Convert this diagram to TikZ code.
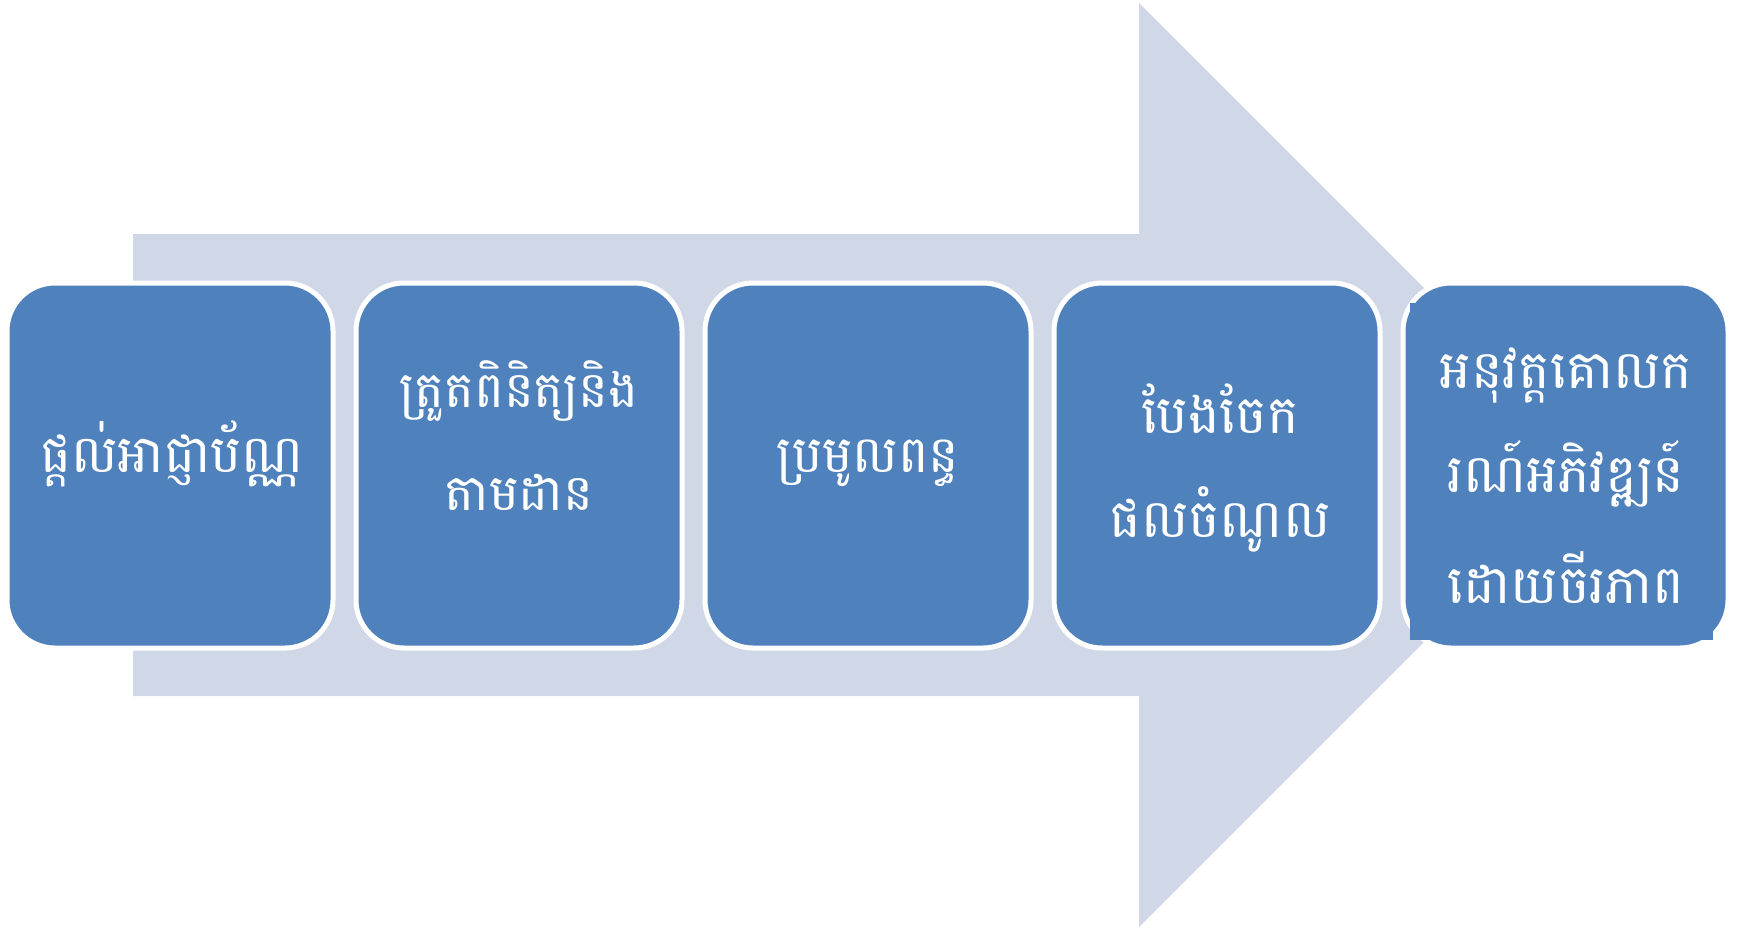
\documentclass[tikz,border=0pt]{standalone}
\usepackage{fontspec}
\newfontfamily\khmer[Script=Khmer]{Battambang}
\definecolor{boxblue}{HTML}{4F81BD}
\definecolor{arrowgray}{HTML}{D0D8E8}
\tikzset{
  stagebox/.style={draw=white, line width=5pt, fill=boxblue, rounded corners=48pt},
  lbl/.style={text=white, anchor=base, inner sep=0pt, font=\khmer}
}
\begin{document}
\begin{tikzpicture}[x=1pt,y=-1pt]
\useasboundingbox (0,0) rectangle (1738,929);
% big arrow
\fill[arrowgray] (133,234) -- (1139,234) -- (1139,3) -- (1601,465) -- (1139,927) -- (1139,696) -- (133,696) -- cycle;
% boxes
\draw[stagebox] (7,283) rectangle (333,648);
\draw[stagebox] (356,283) rectangle (682,648);
\draw[stagebox] (705,283) rectangle (1031,648);
\draw[stagebox] (1054,283) rectangle (1380,648);
\draw[stagebox] (1403,283) rectangle (1728,648);
\fill[boxblue] (1410,303) rectangle (1713,640);
% texts
\node[lbl, font=\khmer\fontsize{52}{60}\selectfont] (t1) at (172,472) {ផ្តល់អាជ្ញាប័ណ្ណ};
\node[lbl, font=\khmer\fontsize{50}{60}\selectfont] (t2a) at (519,407) {ត្រួតពិនិត្យនិង};
\node[lbl, font=\khmer\fontsize{50}{60}\selectfont] (t2b) at (519,510) {តាមដាន};
\node[lbl, font=\khmer\fontsize{51}{60}\selectfont] (t3) at (868,472) {ប្រមូលពន្ធ};
\node[lbl, font=\khmer\fontsize{53}{60}\selectfont] (t4a) at (1220,433) {បែងចែក};
\node[lbl, font=\khmer\fontsize{53}{60}\selectfont] (t4b) at (1220,537) {ផលចំណូល};
\node[lbl, font=\khmer\fontsize{53}{60}\selectfont] (t5a) at (1566,388) {អនុវត្តគោលក};
\node[lbl, font=\khmer\fontsize{53}{60}\selectfont] (t5b) at (1566,492) {រណ៍អភិវឌ្ឍន៍};
\node[lbl, font=\khmer\fontsize{53}{60}\selectfont] (t5c) at (1566,603) {ដោយចីរភាព};
\end{tikzpicture}
\end{document}
